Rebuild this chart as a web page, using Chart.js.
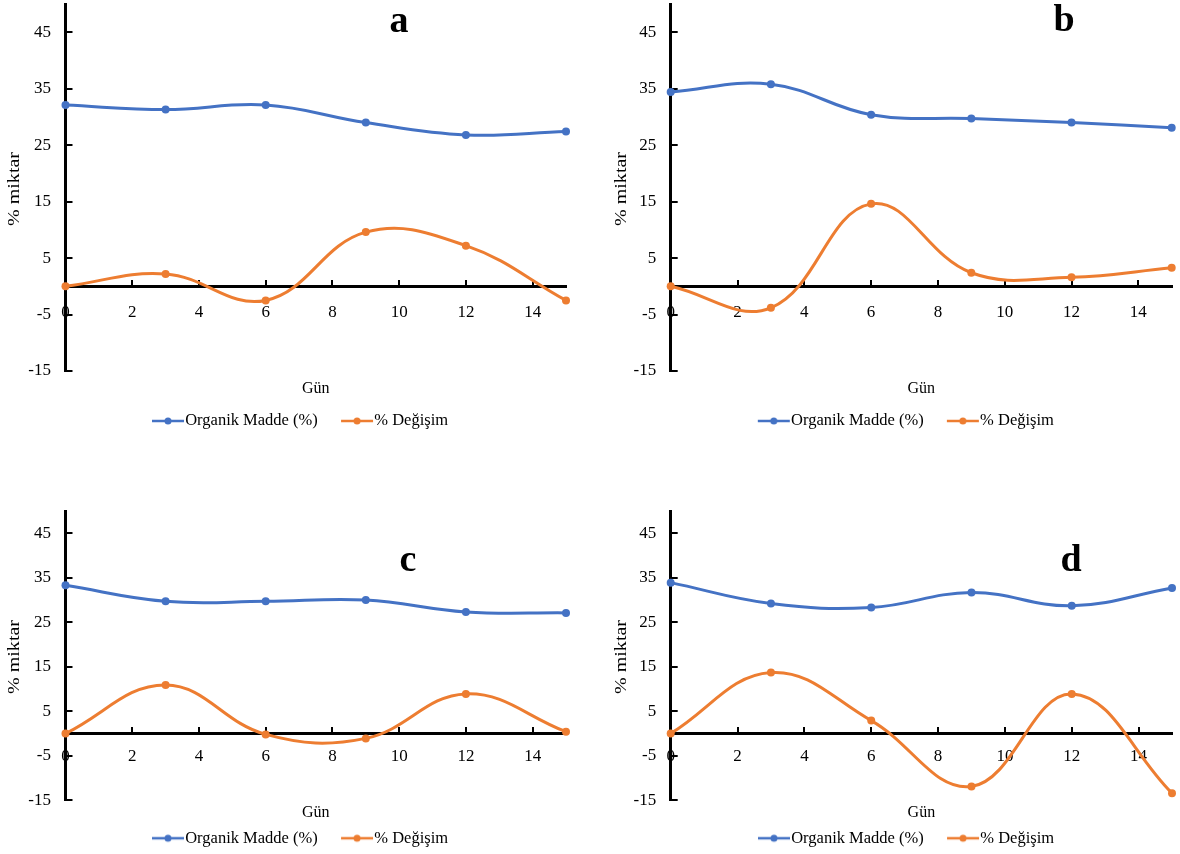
<!DOCTYPE html>
<html>
<head>
<meta charset="utf-8">
<script src="https://cdn.jsdelivr.net/npm/chart.js@4.4.0/dist/chart.umd.min.js"></script>
<style>
  html, body { margin: 0; padding: 0; background: #fff; overflow: hidden; }
  #wrap { position: relative; width: 1180px; height: 854px; }
  canvas { position: absolute; }
</style>
</head>
<body>
<div id="wrap">
  <canvas id="chart-a" width="590" height="440" style="left:0;top:0"></canvas>
  <canvas id="chart-b" width="590" height="440" style="left:590px;top:0"></canvas>
  <canvas id="chart-c" width="590" height="417" style="left:0;top:440px"></canvas>
  <canvas id="chart-d" width="590" height="417" style="left:590px;top:440px"></canvas>
</div>
<script>
// Veriler
const days = [0, 3, 6, 9, 12, 15];
const xTicks = [0, 2, 4, 6, 8, 10, 12, 14];
const yTicks = [-15, -5, 5, 15, 25, 35, 45];
const seriesNames = ['Organik Madde (%)', '% Değişim'];

const organikA = [32.1, 31.3, 32.1, 29.0, 26.8, 27.4];
const degisimA = [0, 2.2, -2.5, 9.6, 7.2, -2.5];
const organikB = [34.4, 35.8, 30.4, 29.7, 29.0, 28.1];
const degisimB = [0, -3.8, 14.6, 2.4, 1.6, 3.3];
const organikC = [33.3, 29.7, 29.7, 30.0, 27.3, 27.1];
const degisimC = [0, 10.9, -0.2, -1.1, 8.9, 0.4];
const organikD = [33.9, 29.2, 28.3, 31.7, 28.7, 32.7];
const degisimD = [0, 13.7, 2.9, -11.9, 8.9, -13.4];

const seriesColors = ['#4472C4', '#ED7D31'];
const SERIF = "'Liberation Serif', 'Times New Roman', serif";

// Lejant işareti: çizgi + nokta (sol tarafı boş, çizgi yazıya dayanır)
function legendMarker(color) {
    const c = document.createElement('canvas');
    c.width = 48;
    c.height = 10;
    const g = c.getContext('2d');
    g.strokeStyle = color;
    g.lineWidth = 2.5;
    g.beginPath();
    g.moveTo(15, 5);
    g.lineTo(47, 5);
    g.stroke();
    g.fillStyle = color;
    g.beginPath();
    g.arc(31, 5, 3.5, 0, Math.PI * 2);
    g.fill();
    return c;
}
const markers = seriesColors.map(legendMarker);

// Ek yazılar (harf, eksen başlıkları)
const extraText = {
    id: 'extraText',
    afterDraw(chart, args, opts) {
        const ctx = chart.ctx;
        const area = chart.chartArea;
        (opts.items || []).forEach(it => {
            const x = it.x === 'center' ? (area.left + area.right) / 2 : it.x;
            ctx.save();
            ctx.font = it.font;
            ctx.fillStyle = '#000';
            ctx.textAlign = 'center';
            ctx.textBaseline = 'middle';
            ctx.translate(x, it.y);
            if (it.rotate) ctx.rotate(it.rotate);
            if (it.stretch) ctx.scale(it.stretch, 1);
            ctx.fillText(it.text, 0, 0);
            ctx.restore();
        });
    }
};

function makeChart(id, organik, degisim, p) {
    const datasets = [organik, degisim].map((vals, i) => ({
        label: seriesNames[i],
        data: days.map((d, k) => ({ x: d, y: vals[k] })),
        borderColor: seriesColors[i],
        backgroundColor: seriesColors[i],
        borderWidth: 3,
        pointRadius: 4,
        pointHoverRadius: 4,
        pointBorderWidth: 0,
        tension: 0.4,
        clip: false
    }));

    const tickFont = { family: SERIF, size: 17 };

    return new Chart(document.getElementById(id), {
        type: 'line',
        data: { datasets },
        options: {
            responsive: false,
            animation: false,
            events: [],
            layout: { padding: { left: p.padL, right: p.padR, top: p.top, bottom: p.padB } },
            scales: {
                x: {
                    type: 'linear',
                    min: 0,
                    max: 15,
                    position: { y: 0 },
                    afterBuildTicks: s => { s.ticks = xTicks.map(v => ({ value: v })); },
                    afterFit: s => { s.height = 0; },
                    grid: { drawOnChartArea: false, drawTicks: true, tickLength: -8, color: '#000', lineWidth: 2 },
                    border: { color: '#000', width: 3 },
                    ticks: { padding: p.xPad, color: '#000', font: tickFont, maxRotation: 0 }
                },
                y: {
                    min: -15,
                    max: 50,
                    afterBuildTicks: s => { s.ticks = yTicks.map(v => ({ value: v })); },
                    afterFit: s => {
                        s.width = p.yW;
                        s.paddingTop = 0;
                        s.paddingBottom = 0;
                    },
                    grid: { drawOnChartArea: false, drawTicks: true, tickLength: -7, color: '#000', lineWidth: 2 },
                    border: { color: '#000', width: 3 },
                    ticks: { padding: 21.5, color: '#000', font: tickFont }
                }
            },
            plugins: {
                legend: {
                    position: 'bottom',
                    labels: {
                        usePointStyle: true,
                        pointStyleWidth: 32,
                        padding: 16.25,
                        color: '#000',
                        font: { family: SERIF, size: 16.5 },
                        generateLabels: chart => {
                            const items = Chart.defaults.plugins.legend.labels.generateLabels(chart);
                            items.forEach((it, i) => { it.pointStyle = markers[i]; });
                            return items;
                        }
                    },
                    title: {
                        display: true,
                        text: '',
                        padding: 0,
                        font: { size: 10, lineHeight: p.spacer / 10 }
                    }
                },
                tooltip: { enabled: false },
                extraText: {
                    items: [
                        { text: p.letter, x: p.letterX, y: p.letterY, font: 'bold 38px ' + SERIF },
                        { text: 'Gün', x: 'center', y: p.gunY, font: '16px ' + SERIF },
                        { text: '% miktar', x: p.titleX, y: p.titleY, font: '17px ' + SERIF, rotate: -Math.PI / 2, stretch: 1.18 }
                    ]
                }
            }
        },
        plugins: [extraText]
    });
}

makeChart('chart-a', organikA, degisimA, {
    padL: 27, padR: 24, top: 3, padB: 0.75, yW: 38.5, spacer: 25.5, xPad: 24.5,
    letter: 'a', letterX: 399, letterY: 22, gunY: 389, titleX: 15, titleY: 189
});
makeChart('chart-b', organikB, degisimB, {
    padL: 43, padR: 8.3, top: 3, padB: 0.75, yW: 37.7, spacer: 25.5, xPad: 24.5,
    letter: 'b', letterX: 474, letterY: 21, gunY: 389, titleX: 32, titleY: 189
});
makeChart('chart-c', organikC, degisimC, {
    padL: 27, padR: 24, top: 71, padB: 0.5, yW: 38.5, spacer: 13.5, xPad: 20.5,
    letter: 'c', letterX: 408, letterY: 121, gunY: 373, titleX: 15, titleY: 217
});
makeChart('chart-d', organikD, degisimD, {
    padL: 43, padR: 8, top: 71, padB: 0.5, yW: 37.7, spacer: 13.5, xPad: 20.5,
    letter: 'd', letterX: 481, letterY: 121, gunY: 373, titleX: 32, titleY: 217
});
</script>
</body>
</html>
